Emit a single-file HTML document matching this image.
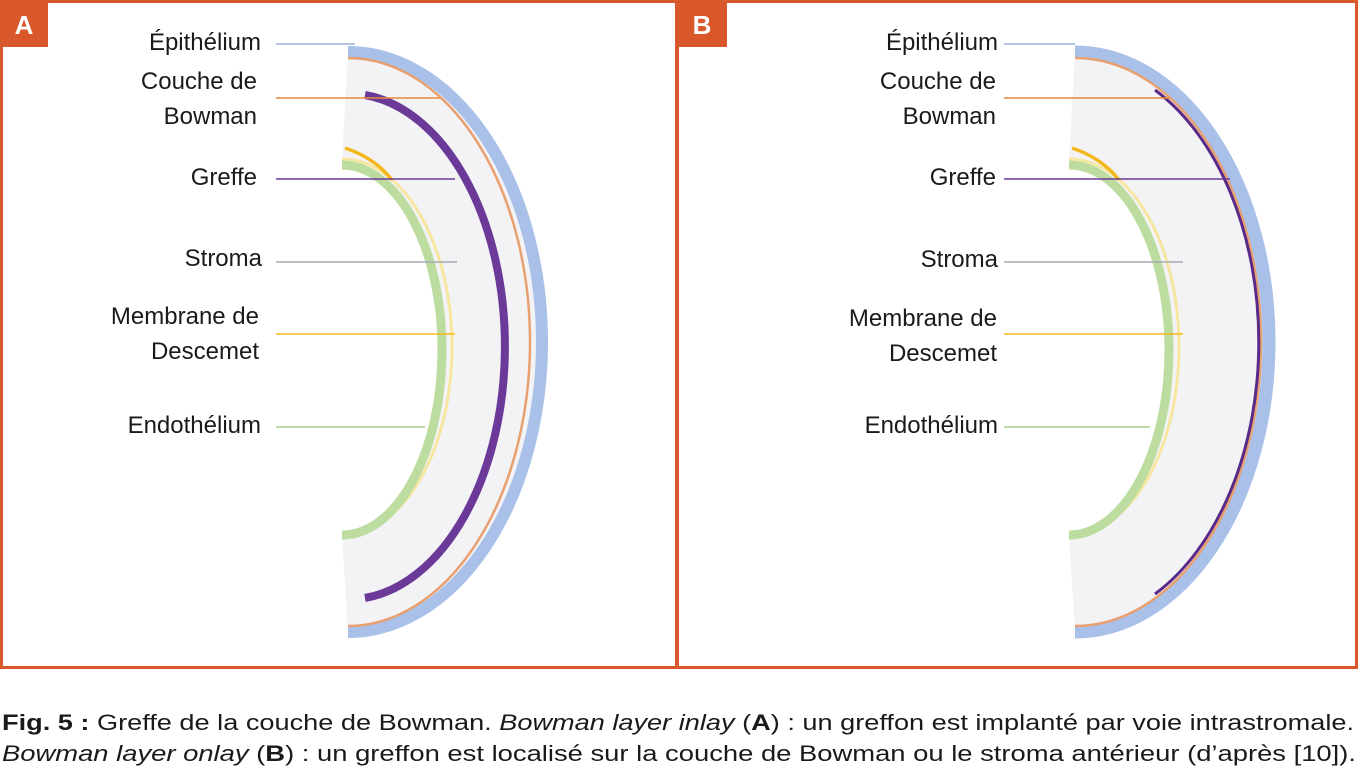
<!DOCTYPE html>
<html><head><meta charset="utf-8"><style>
html,body{margin:0;padding:0;background:#fff;}
svg{display:block;}
text{font-family:"Liberation Sans",sans-serif;fill:#1a1a1a;}
</style></head><body>
<svg width="1359" height="776" viewBox="0 0 1359 776" xmlns="http://www.w3.org/2000/svg">
<rect x="0" y="0" width="1359" height="776" fill="#fff"/>
<rect x="1.5" y="1.5" width="675" height="666" fill="none" stroke="#d9582b" stroke-width="3"/>
<rect x="677.5" y="1.5" width="679" height="666" fill="none" stroke="#d9582b" stroke-width="3"/>
<rect x="0" y="0" width="48" height="47" fill="#d9582b"/>
<rect x="677" y="0" width="50" height="47" fill="#d9582b"/>
<text x="24" y="34" font-size="26" font-weight="bold" text-anchor="middle" style="fill:#fff">A</text>
<text x="702" y="34" font-size="26" font-weight="bold" text-anchor="middle" style="fill:#fff">B</text>

<g id="A">
<path d="M348 52 A194 290 0 0 1 348 632 L342 535 A102 188 0 0 0 342 159 Z" fill="#f3f3f6"/>
<path d="M348 52 A194 290 0 0 1 348 632" fill="none" stroke="#a9c0e8" stroke-width="12"/>
<path d="M348 58 A182 284 0 0 1 348 626" fill="none" stroke="#e8a070" stroke-width="2.5"/>
<path d="M365 95 A157 253 0 0 1 365 598" fill="none" stroke="#6b3a98" stroke-width="8"/>
<path d="M342 159 A110 188 0 0 1 342 535" fill="none" stroke="#f6e6a0" stroke-width="3"/>
<path d="M342 165 A100 185 0 0 1 342 535" fill="none" stroke="#bcdca0" stroke-width="9"/>
<path d="M345 148 Q375 158 392 180" fill="none" stroke="#f3b81c" stroke-width="3.5"/>
<g stroke-width="1.6">
<line x1="276" y1="44" x2="355" y2="44" stroke="#9fb3d6"/>
<line x1="276" y1="98" x2="440" y2="98" stroke="#e88a3c"/>
<line x1="276" y1="179" x2="455" y2="179" stroke="#6b3a98"/>
<line x1="276" y1="262" x2="457" y2="262" stroke="#a8aab4"/>
<line x1="276" y1="334" x2="455" y2="334" stroke="#f3b81c"/>
<line x1="276" y1="427" x2="425" y2="427" stroke="#a8d08c"/>
</g>
<g font-size="24" text-anchor="end">
<text x="261" y="50">Épithélium</text>
<text x="257" y="89">Couche de</text>
<text x="257" y="124">Bowman</text>
<text x="257" y="185">Greffe</text>
<text x="262" y="266">Stroma</text>
<text x="259" y="324">Membrane de</text>
<text x="259" y="359">Descemet</text>
<text x="261" y="433">Endothélium</text>
</g>
</g>

<g id="B">
<path d="M1075 52 A194 290 0 0 1 1075 632 L1069 535 A102 188 0 0 0 1069 159 Z" fill="#f3f3f6"/>
<path d="M1075 52 A194 290 0 0 1 1075 632" fill="none" stroke="#a9c0e8" stroke-width="13"/>
<path d="M1075 58 A186 284 0 0 1 1075 626" fill="none" stroke="#e8a070" stroke-width="2.5"/>
<path d="M1155 90 A184 280 0 0 1 1155 594" fill="none" stroke="#5a2a88" stroke-width="3"/>
<path d="M1069 159 A110 188 0 0 1 1069 535" fill="none" stroke="#f6e6a0" stroke-width="3"/>
<path d="M1069 165 A100 185 0 0 1 1069 535" fill="none" stroke="#bcdca0" stroke-width="9"/>
<path d="M1072 148 Q1102 158 1119 180" fill="none" stroke="#f3b81c" stroke-width="3.5"/>
<g stroke-width="1.6">
<line x1="1004" y1="44" x2="1075" y2="44" stroke="#9fb3d6"/>
<line x1="1004" y1="98" x2="1170" y2="98" stroke="#e88a3c"/>
<line x1="1004" y1="179" x2="1230" y2="179" stroke="#6b3a98"/>
<line x1="1004" y1="262" x2="1183" y2="262" stroke="#a8aab4"/>
<line x1="1004" y1="334" x2="1183" y2="334" stroke="#f3b81c"/>
<line x1="1004" y1="427" x2="1150" y2="427" stroke="#a8d08c"/>
</g>
<g font-size="24" text-anchor="end">
<text x="998" y="50">Épithélium</text>
<text x="996" y="89">Couche de</text>
<text x="996" y="124">Bowman</text>
<text x="996" y="185">Greffe</text>
<text x="998" y="267">Stroma</text>
<text x="997" y="326">Membrane de</text>
<text x="997" y="361">Descemet</text>
<text x="998" y="433">Endothélium</text>
</g>
</g>

<text x="2" y="730" font-size="22" textLength="1352" lengthAdjust="spacingAndGlyphs"><tspan font-weight="bold">Fig. 5 :</tspan> Greffe de la couche de Bowman. <tspan font-style="italic">Bowman layer inlay</tspan> (<tspan font-weight="bold">A</tspan>) : un greffon est implanté par voie intrastromale.</text>
<text x="2" y="761" font-size="22" textLength="1354" lengthAdjust="spacingAndGlyphs"><tspan font-style="italic">Bowman layer onlay</tspan> (<tspan font-weight="bold">B</tspan>) : un greffon est localisé sur la couche de Bowman ou le stroma antérieur (d’après [10]).</text>
</svg>
</body></html>
